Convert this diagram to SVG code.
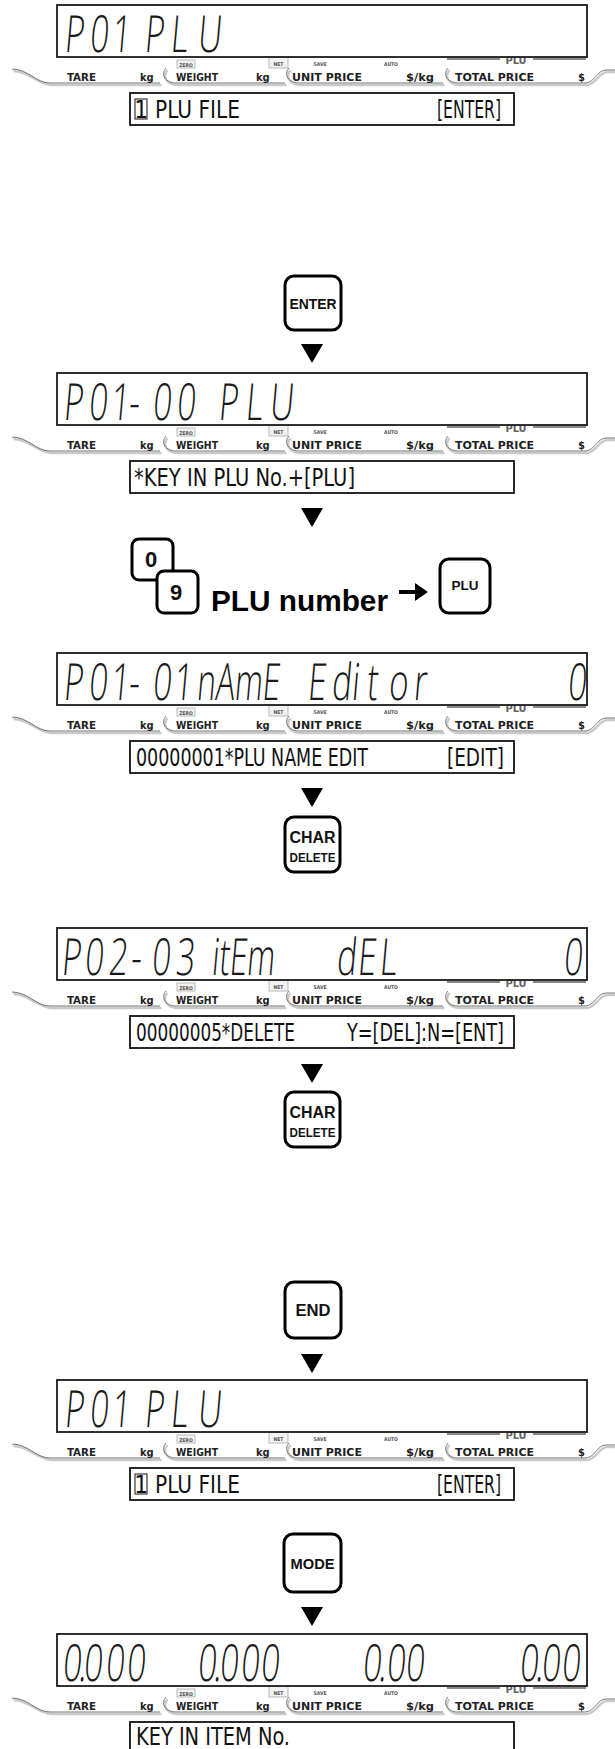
<svg xmlns="http://www.w3.org/2000/svg" xmlns:xlink="http://www.w3.org/1999/xlink" width="615" height="1749" viewBox="0 0 615 1749">
<defs>
<style>
.lcdbox{fill:#fff;stroke:#1a1a1a;stroke-width:1.8}
.lcd{font-family:'Open Sans','DejaVu Sans',sans-serif;font-weight:300;font-size:33px;fill:#1a1a1a}
.tb{fill:#fff;stroke:#111;stroke-width:1.8}
.tbt{font-family:'DejaVu Sans Condensed','DejaVu Sans',sans-serif;font-stretch:condensed;font-size:24px;fill:#111}
.lab{font-family:'DejaVu Sans Condensed','DejaVu Sans',sans-serif;font-stretch:condensed;font-weight:bold;font-size:11px;fill:#222}
.tiny{font-family:'DejaVu Sans Condensed','DejaVu Sans',sans-serif;font-weight:bold;font-size:5px;fill:#555;text-anchor:middle}
.plu{font-family:'DejaVu Sans Condensed','DejaVu Sans',sans-serif;font-weight:bold;font-size:11px;fill:#666;text-anchor:middle}
.cv{fill:none;stroke:#777;stroke-width:1}
.cvl{fill:none;stroke:#cacaca;stroke-width:2.4}
.ind{fill:#f2f2f2;stroke:#aaa;stroke-width:0.8}
.key{fill:#fff;stroke:#000;stroke-width:3}
.kt{font-family:'Liberation Sans',Arial,sans-serif;font-weight:bold;fill:#111;text-anchor:middle}
.tri{fill:#000}
.big{font-family:'Liberation Sans',Arial,sans-serif;font-weight:bold;font-size:29px;fill:#000}
</style>
<g id="lbl">
  <path d="M447,54 H500 M533,54 H586" stroke="#888" stroke-width="2"/>
  <text class="plu" x="516" y="59">PLU</text>
  <g transform="translate(1.5,2)">
    <path class="cvl" d="M12,64 C28,64 36,78 50,78 H160"/>
    <path class="cvl" d="M166,63 C160,70 166,78 176,78 H285"/>
    <path class="cvl" d="M289,63 C283,70 289,78 299,78 H443"/>
    <path class="cvl" d="M448,63 C442,70 448,78 458,78 H585 C595,78 597,65 606,65 H615"/>
  </g>
  <path class="cv" d="M12,64 C28,64 36,78 50,78 H160"/>
  <path class="cv" d="M166,63 C160,70 166,78 176,78 H285"/>
  <path class="cv" d="M289,63 C283,70 289,78 299,78 H443"/>
  <path class="cv" d="M448,63 C442,70 448,78 458,78 H585 C595,78 597,65 606,65 H615"/>
  <rect class="ind" x="177" y="55" width="18" height="8"/>
  <text class="tiny" x="186" y="61.5">ZERO</text>
  <rect class="ind" x="269" y="52" width="19" height="11"/>
  <text class="tiny" x="278.5" y="61">NET</text>
  <text class="tiny" x="320" y="61">SAVE</text>
  <text class="tiny" x="391" y="61">AUTO</text>
  <text class="lab" x="67" y="76" textLength="29" lengthAdjust="spacingAndGlyphs">TARE</text>
  <text class="lab" x="140" y="76">kg</text>
  <text class="lab" x="176" y="76" textLength="42" lengthAdjust="spacingAndGlyphs">WEIGHT</text>
  <text class="lab" x="256" y="76">kg</text>
  <text class="lab" x="292" y="76" textLength="70" lengthAdjust="spacingAndGlyphs">UNIT PRICE</text>
  <text class="lab" x="406" y="76" textLength="28" lengthAdjust="spacingAndGlyphs">$/kg</text>
  <text class="lab" x="455" y="76" textLength="79" lengthAdjust="spacingAndGlyphs">TOTAL PRICE</text>
  <text class="lab" x="578" y="76">$</text>
</g>
</defs>
<rect width="615" height="1749" fill="#fff"/>

<g id="connectors">
  <polygon class="tri" points="301,344 323,344 312,363"/>
  <polygon class="tri" points="301,508 323,508 312,527"/>
  <polygon class="tri" points="301,788 323,788 312,807"/>
  <polygon class="tri" points="301,1064 323,1064 312,1083"/>
  <polygon class="tri" points="301,1354 323,1354 312,1373"/>
  <polygon class="tri" points="301,1607 323,1607 312,1626"/>
  <path d="M399,592 H418" stroke="#000" stroke-width="4"/>
  <polygon points="415,583 428,592 415,601" fill="#000"/>
</g>

<g id="display1" transform="translate(0,5)">
  <use href="#lbl"/>
  <rect class="lcdbox" x="57" y="0" width="530" height="52"/>
  <text class="lcd" transform="translate(0,47) skewX(-5) scale(1,1.55)" x="64 89 111 130 144 170 197" y="0">P01 PLU</text>
  <rect class="tb" x="130" y="88" width="384" height="32"/>
  <rect x="135" y="94" width="12" height="20" fill="none" stroke="#111" stroke-width="1"/>
  <text class="tbt" x="141" y="113" text-anchor="middle">1</text>
  <text class="tbt" x="155" y="113" textLength="85" lengthAdjust="spacingAndGlyphs">PLU FILE</text>
  <text class="tbt" x="437" y="113" textLength="64" lengthAdjust="spacingAndGlyphs">[ENTER]</text>
</g>

<g id="key-enter">
  <rect class="key" x="285" y="276" width="56" height="54" rx="9"/>
  <text class="kt" x="313" y="309" font-size="14" textLength="47" lengthAdjust="spacingAndGlyphs">ENTER</text>
</g>

<g id="display2" transform="translate(0,373)">
  <use href="#lbl"/>
  <rect class="lcdbox" x="57" y="0" width="530" height="52"/>
  <text class="lcd" transform="translate(0,47) skewX(-5) scale(1,1.55)" x="63 88 110 128 152 176 200 218 245 269" y="0">P01-00 PLU</text>
  <rect class="tb" x="130" y="88" width="384" height="32"/>
  <text class="tbt" x="134" y="113" textLength="221" lengthAdjust="spacingAndGlyphs">*KEY IN PLU No.+[PLU]</text>
</g>

<g id="key-0">
  <rect class="key" x="132" y="539" width="41" height="41" rx="7" stroke-width="2.5"/>
  <text class="kt" x="151" y="567" font-size="22">0</text>
</g>
<g id="key-9">
  <rect class="key" x="157" y="571" width="41" height="42" rx="7" stroke-width="2.5"/>
  <text class="kt" x="176" y="600" font-size="22">9</text>
</g>
<g id="label-plu-number">
  <text class="big" x="211" y="611" textLength="177" lengthAdjust="spacingAndGlyphs">PLU number</text>
</g>
<g id="key-plu">
  <rect class="key" x="440" y="559" width="50" height="54" rx="9" stroke-width="2.5"/>
  <text class="kt" x="465" y="590" font-size="13" textLength="27" lengthAdjust="spacingAndGlyphs">PLU</text>
</g>

<g id="display3" transform="translate(0,653)">
  <use href="#lbl"/>
  <rect class="lcdbox" x="57" y="0" width="530" height="52"/>
  <g transform="translate(0,47) skewX(-5) scale(1,1.55)">
    <text class="lcd" x="63 88 110 128 152 173" y="0">P01-01</text>
    <text class="lcd" x="196" y="0" textLength="83" lengthAdjust="spacingAndGlyphs">nAmE</text>
    <text class="lcd" x="307 331 351 366 388 413" y="0">Editor</text>
    <text class="lcd" x="567" y="0">0</text>
  </g>
  <rect class="tb" x="130" y="88" width="384" height="32"/>
  <text class="tbt" x="136" y="113" textLength="232" lengthAdjust="spacingAndGlyphs">00000001*PLU NAME EDIT</text>
  <text class="tbt" x="447" y="113" textLength="57" lengthAdjust="spacingAndGlyphs">[EDIT]</text>
</g>

<g id="key-char-delete-1">
  <rect class="key" x="285" y="817" width="55" height="55" rx="9"/>
  <text class="kt" x="312.5" y="843" font-size="16" textLength="46" lengthAdjust="spacingAndGlyphs">CHAR</text>
  <text class="kt" x="312.5" y="862" font-size="13" textLength="46" lengthAdjust="spacingAndGlyphs">DELETE</text>
</g>

<g id="display4" transform="translate(0,928)">
  <use href="#lbl"/>
  <rect class="lcdbox" x="57" y="0" width="530" height="52"/>
  <g transform="translate(0,47) skewX(-5) scale(1,1.55)">
    <text class="lcd" x="61 84 108 130 151 175" y="0">P02-03</text>
    <text class="lcd" x="211" y="0" textLength="63" lengthAdjust="spacingAndGlyphs">itEm</text>
    <text class="lcd" x="336 357 379" y="0">dEL</text>
    <text class="lcd" x="563" y="0">0</text>
  </g>
  <rect class="tb" x="130" y="88" width="384" height="32"/>
  <text class="tbt" x="136" y="113" textLength="159" lengthAdjust="spacingAndGlyphs">00000005*DELETE</text>
  <text class="tbt" x="347" y="113" textLength="157" lengthAdjust="spacingAndGlyphs">Y=[DEL]:N=[ENT]</text>
</g>

<g id="key-char-delete-2">
  <rect class="key" x="285" y="1092" width="55" height="55" rx="9"/>
  <text class="kt" x="312.5" y="1118" font-size="16" textLength="46" lengthAdjust="spacingAndGlyphs">CHAR</text>
  <text class="kt" x="312.5" y="1137" font-size="13" textLength="46" lengthAdjust="spacingAndGlyphs">DELETE</text>
</g>

<g id="key-end">
  <rect class="key" x="285" y="1282" width="56" height="56" rx="9"/>
  <text class="kt" x="313" y="1316" font-size="16" textLength="35" lengthAdjust="spacingAndGlyphs">END</text>
</g>

<g id="display5" transform="translate(0,1380)">
  <use href="#lbl"/>
  <rect class="lcdbox" x="57" y="0" width="530" height="52"/>
  <text class="lcd" transform="translate(0,47) skewX(-5) scale(1,1.55)" x="64 89 111 130 144 170 197" y="0">P01 PLU</text>
  <rect class="tb" x="130" y="88" width="384" height="32"/>
  <rect x="135" y="94" width="12" height="20" fill="none" stroke="#111" stroke-width="1"/>
  <text class="tbt" x="141" y="113" text-anchor="middle">1</text>
  <text class="tbt" x="155" y="113" textLength="85" lengthAdjust="spacingAndGlyphs">PLU FILE</text>
  <text class="tbt" x="437" y="113" textLength="64" lengthAdjust="spacingAndGlyphs">[ENTER]</text>
</g>

<g id="key-mode">
  <rect class="key" x="284" y="1534" width="57" height="58" rx="9"/>
  <text class="kt" x="312.5" y="1569" font-size="15" textLength="44" lengthAdjust="spacingAndGlyphs">MODE</text>
</g>

<g id="display6" transform="translate(0,1634)">
  <use href="#lbl"/>
  <rect class="lcdbox" x="57" y="0" width="530" height="52"/>
  <text class="lcd" transform="translate(0,47) skewX(-5) scale(1,1.55)" x="62 78 83 105 126 150 197 213 219 240 260 300 362 378 386 405 450 519 535 541 561" y="0">0.000 0.000 0.00 0.00</text>
  <rect class="tb" x="130" y="88" width="384" height="34"/>
  <text class="tbt" x="136" y="111" textLength="154" lengthAdjust="spacingAndGlyphs">KEY IN ITEM No.</text>
</g>
</svg>
